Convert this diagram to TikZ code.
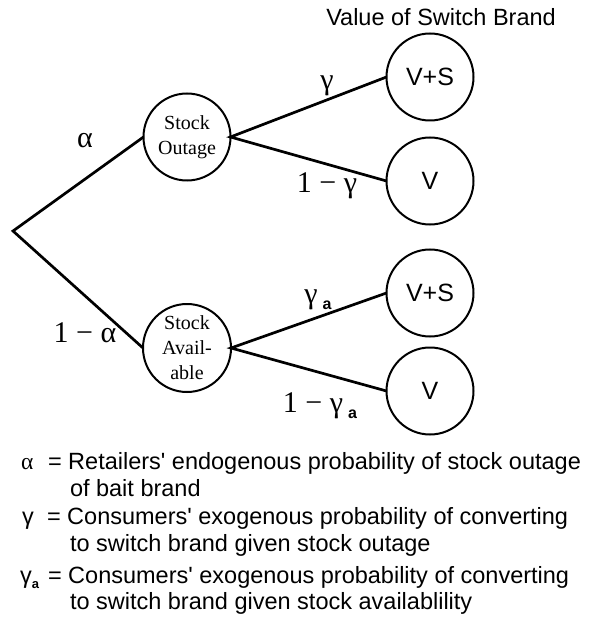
\documentclass[tikz,border=0pt]{standalone}
\usepackage{fontspec}
\usepackage{xcolor}
\setmainfont{Liberation Sans}
\newfontfamily\tms{Liberation Serif}
\newcommand{\suba}[1]{\raisebox{-0.45ex}{\normalfont\bfseries\fontsize{#1}{#1}\selectfont a}}

\begin{document}
\begin{tikzpicture}[x=1pt,y=-1pt]
\tikzset{every node/.style={inner sep=0pt,outer sep=0pt}}
\tikzset{event/.style={draw,circle,line width=2pt,minimum size=87pt,align=center,font=\tms\fontsize{20}{25}\selectfont}}
\tikzset{payoff/.style={draw,circle,line width=2pt,minimum size=87pt,font=\fontsize{25}{25}\selectfont}}
\tikzset{branch/.style={line width=2.7pt}}
\tikzset{prob/.style={font=\tms\fontsize{30}{30}\selectfont}}
\tikzset{keytext/.style={anchor=base west,font=\fontsize{23.5}{23.5}\selectfont}}

\useasboundingbox (0,0) rectangle (589,617);

\node[font=\fontsize{23.5}{23.5}\selectfont] (title) at (441,17) {Value of Switch Brand};

\coordinate (root) at (13,231);
\node[event] (so) at (187,137) {Stock\\Outage};
\node[event,minimum size=88pt] (sa) at (187,348) {Stock\\Avail-\\able};

\node[payoff] (vs1) at (430,77) {V+S};
\node[payoff] (v1) at (430,181) {V};
\node[payoff] (vs2) at (430,293) {V+S};
\node[payoff] (v2) at (430,391) {V};

\draw[branch] (so.west) -- (root) -- (sa.west);
\draw[branch] (vs1.west) -- (so.east) -- (v1.west);
\draw[branch] (vs2.west) -- (sa.east) -- (v2.west);

\node[prob] (pa) at (85,141) {α};
\node[prob] (pna) at (85,333) {1 − α};
\node[prob] (pg) at (327,86) {γ};
\node[prob] (png) at (327,186) {1 − γ};
\node[prob] (pga) at (318,300) {γ\,\suba{16}};
\node[prob] (pnga) at (320,406) {1 − γ\,\suba{16}};

\node[keytext] (ka) at (21,469) {\tms α};
\node[keytext] (ta) at (48,469) {= Retailers\textquotesingle{} endogenous probability of stock outage};
\node[keytext] (ta2) at (70,496) {of bait brand};
\node[keytext] (kg) at (22,524) {γ};
\node[keytext] (tg) at (47,524) {= Consumers\textquotesingle{} exogenous probability of converting};
\node[keytext] (tg2) at (70,551) {to switch brand given stock outage};
\node[keytext] (kga) at (20,583) {γ\suba{13}};
\node[keytext] (tga) at (48,583) {= Consumers\textquotesingle{} exogenous probability of converting};
\node[keytext] (tga2) at (70,609) {to switch brand given stock availablility};

\end{tikzpicture}
\end{document}
